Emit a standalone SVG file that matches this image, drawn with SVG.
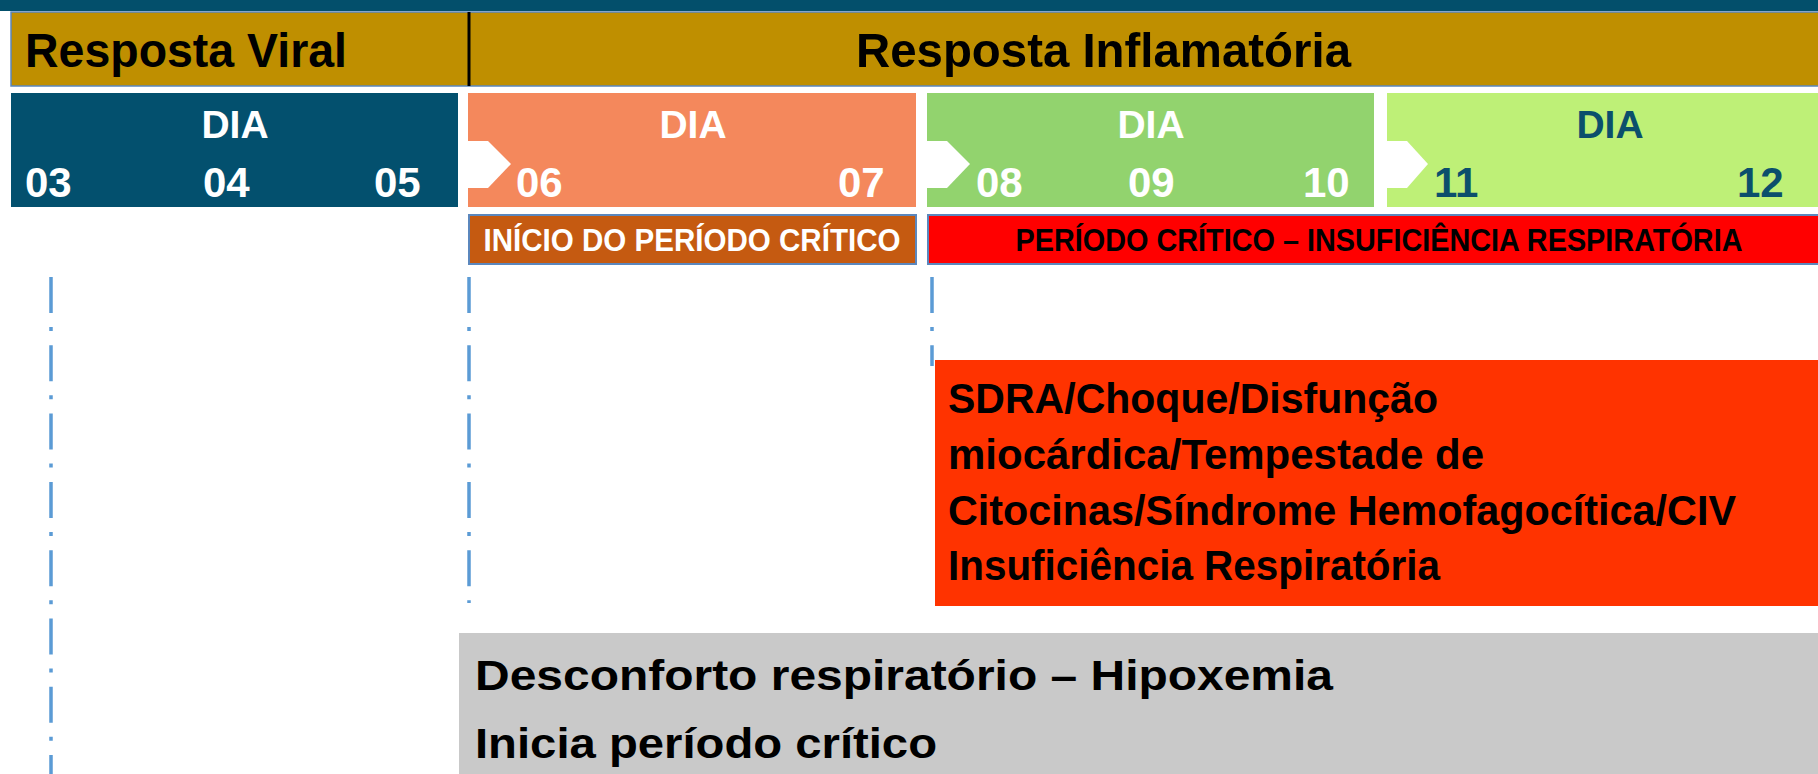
<svg xmlns="http://www.w3.org/2000/svg" width="1818" height="774" viewBox="0 0 1818 774">
<style>
text{font-family:"Liberation Sans",Arial,sans-serif;font-weight:bold}
.w{fill:#fff}
.k{fill:#000}
.b{fill:#0B4F6C}
.hdr{font-size:49px}
.dia{font-size:39px}
.num{font-size:42px}
.per{font-size:31px}
.big{font-size:42px}
.gr{font-size:43px}
.dd{stroke:#5B9BD5;stroke-width:3.5;fill:none;stroke-dasharray:36 14 4 14.3}
.chev{fill:#fff}
</style>
<rect width="1818" height="774" fill="#fff"/>
<g id="topbar"><rect x="0" y="0" width="1818" height="11" fill="#034F6B"/></g>
<g id="phase-header">
<rect x="11" y="12" width="1810" height="74" fill="#BF8F00" stroke="#5B87BD" stroke-width="1.5"/>
<line x1="469" y1="12" x2="469" y2="86" stroke="#000" stroke-width="3"/>
<text class="hdr k" x="25" y="67" textLength="322" lengthAdjust="spacingAndGlyphs">Resposta Viral</text>
<text class="hdr k" x="856" y="67" textLength="495" lengthAdjust="spacingAndGlyphs">Resposta Inflamatória</text>
</g>
<g id="days-03-05">
<rect x="11" y="93" width="447" height="114" fill="#03506E"/>
<text class="dia w" x="235" y="138" text-anchor="middle">DIA</text>
<text class="num w" x="25" y="197">03</text>
<text class="num w" x="203" y="197">04</text>
<text class="num w" x="374" y="197">05</text>
</g>
<g id="days-06-07">
<rect x="468" y="93" width="448" height="114" fill="#F4885C"/>
<path class="chev" d="M468 141 H488 L511 164 L488 188 H468 Z"/>
<text class="dia w" x="693" y="138" text-anchor="middle">DIA</text>
<text class="num w" x="516" y="197">06</text>
<text class="num w" x="838" y="197">07</text>
</g>
<g id="days-08-10">
<rect x="927" y="93" width="447" height="114" fill="#92D36E"/>
<path class="chev" d="M927 141 H947 L970 164 L947 188 H927 Z"/>
<text class="dia w" x="1151" y="138" text-anchor="middle">DIA</text>
<text class="num w" x="976" y="197">08</text>
<text class="num w" x="1128" y="197">09</text>
<text class="num w" x="1303" y="197">10</text>
</g>
<g id="days-11-12">
<rect x="1387" y="93" width="431" height="114" fill="#BEF077"/>
<path class="chev" d="M1387 141 H1407 L1428 164 L1407 188 H1387 Z"/>
<text class="dia b" x="1610" y="138" text-anchor="middle">DIA</text>
<text class="num b" x="1434" y="197">11</text>
<text class="num b" x="1737" y="197">12</text>
</g>
<g id="inicio-periodo">
<rect x="469" y="215" width="447" height="49" fill="#C55A11" stroke="#5B87BD" stroke-width="2"/>
<text class="per w" x="692" y="251" text-anchor="middle" textLength="417" lengthAdjust="spacingAndGlyphs">INÍCIO DO PERÍODO CRÍTICO</text>
</g>
<g id="periodo-critico">
<rect x="928" y="215" width="895" height="49" fill="#FF0000" stroke="#5B87BD" stroke-width="2"/>
<text class="per k" x="1379" y="251" text-anchor="middle" textLength="727" lengthAdjust="spacingAndGlyphs">PERÍODO CRÍTICO – INSUFICIÊNCIA RESPIRATÓRIA</text>
</g>
<g id="connectors">
<line class="dd" x1="51" y1="277" x2="51" y2="774"/>
<line class="dd" x1="469" y1="277" x2="469" y2="603"/>
<line class="dd" x1="932" y1="277" x2="932" y2="366"/>
</g>
<g id="complicacoes">
<rect x="935" y="360" width="883" height="246" fill="#FF3300"/>
<text class="big k" x="948" y="413" textLength="490" lengthAdjust="spacingAndGlyphs">SDRA/Choque/Disfunção</text>
<text class="big k" x="948" y="469" textLength="536" lengthAdjust="spacingAndGlyphs">miocárdica/Tempestade de</text>
<text class="big k" x="948" y="525" textLength="788" lengthAdjust="spacingAndGlyphs">Citocinas/Síndrome Hemofagocítica/CIV</text>
<text class="big k" x="948" y="580" textLength="492" lengthAdjust="spacingAndGlyphs">Insuficiência Respiratória</text>
</g>
<g id="desconforto">
<rect x="459" y="633" width="1359" height="141" fill="#C9C9C9"/>
<text class="gr k" x="475" y="690" textLength="858" lengthAdjust="spacingAndGlyphs">Desconforto respiratório – Hipoxemia</text>
<text class="gr k" x="475" y="758" textLength="462" lengthAdjust="spacingAndGlyphs">Inicia período crítico</text>
</g>
</svg>
